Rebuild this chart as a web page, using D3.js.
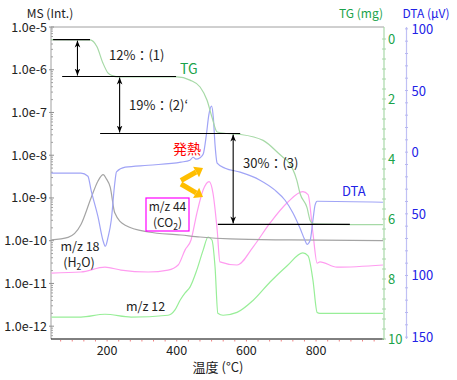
<!DOCTYPE html>
<html>
<head>
<meta charset="utf-8">
<script src="https://cdn.jsdelivr.net/npm/d3@7"></script>
<style>
body { margin: 0; background: #fff; }
text { font-family: "Noto Sans CJK JP", "Noto Sans", sans-serif; }
</style>
</head>
<body>
<div id="chart"></div>
<script>
// tick values / labels
var xTicks = [200, 400, 600, 800];
var msTicks = [1e-5, 1e-6, 1e-7, 1e-8, 1e-9, 1e-10, 1e-11, 1e-12];
var msTickLabels = ["1.0e-5", "1.0e-6", "1.0e-7", "1.0e-8", "1.0e-9", "1.0e-10", "1.0e-11", "1.0e-12"];
var tgTicks = [0, 2, 4, 6, 8, 10];
var dtaTicks = [100, 50, 0, -50, -100, -150];
var dtaTickLabels = ["100", "50", "0", "50", "100", "150"];

// TG (mg)
var tgTemp = [40, 151, 171, 188, 203, 215, 229, 401, 438, 467, 487, 501, 516, 544, 582, 648, 705, 717, 745, 754, 774, 783, 791, 992];
var tgMass = [0.02, 0.03, 0.26, 0.80, 1.14, 1.22, 1.26, 1.26, 1.37, 1.60, 2.04, 2.60, 3.10, 3.15, 3.18, 3.38, 3.94, 4.05, 4.72, 5.15, 5.62, 6.05, 6.16, 6.19];

// DTA (uV)
var dtaTemp = [40, 125, 145, 154, 174, 188, 195, 203, 212, 222, 227, 252, 318, 412, 438, 447, 455, 467, 476, 485, 492, 500, 505, 510, 516, 539, 582, 639, 682, 711, 734, 754, 768, 774, 783, 791, 797, 803, 992];
var dtaVal = [-17.0, -17.0, -19.5, -30.8, -52.5, -71.4, -76.3, -68.7, -55.2, -25.4, -16.0, -12.2, -10.6, -8.1, -6.5, -4.1, -5.7, -4.5, -1.5, 14, 30, 37.3, 28, 5.7, -8.9, -13.0, -16.2, -22.7, -30.8, -39.0, -49.5, -61.7, -71.4, -74.7, -71.4, -55.2, -43.0, -39.8, -40.6];

// m/z 18
var ms18Temp = [40, 88, 125, 154, 174, 189, 198, 209, 222, 252, 318, 412, 467, 553, 725, 992];
var ms18Val = [1.05e-10, 1.2e-10, 2.4e-10, 1.0e-9, 2.5e-9, 3.5e-9, 2.8e-9, 1.8e-9, 4.5e-10, 2.3e-10, 1.6e-10, 1.36e-10, 1.22e-10, 1.1e-10, 1.04e-10, 1.0e-10];

// m/z 44
var ms44Temp = [40, 125, 194, 240, 318, 375, 404, 424, 441, 458, 476, 493, 504, 516, 524, 573, 619, 668, 717, 762, 777, 791, 803, 811, 860, 992];
var ms44Val = [1.75e-11, 1.85e-11, 2.4e-11, 2.05e-11, 1.85e-11, 2.05e-11, 2.7e-11, 6.1e-11, 1.04e-10, 4.5e-10, 1.55e-9, 2.4e-9, 1.3e-9, 1.8e-10, 3.2e-11, 2.7e-11, 7.1e-11, 2.6e-10, 7.7e-10, 1.4e-9, 1.2e-9, 1.5e-10, 3.0e-11, 3.2e-11, 2.4e-11, 2.7e-11];

// m/z 12
var ms12Temp = [40, 125, 194, 269, 375, 395, 410, 424, 438, 458, 476, 490, 501, 510, 518, 533, 573, 619, 668, 717, 762, 777, 791, 803, 811, 992];
var ms12Val = [1.63e-12, 1.63e-12, 1.9e-12, 1.63e-12, 1.8e-12, 2.4e-12, 4.1e-12, 6.0e-12, 8.2e-12, 2.1e-11, 6.1e-11, 1.22e-10, 1.04e-10, 2.4e-11, 2.0e-12, 1.8e-12, 2.1e-12, 4.0e-12, 1.08e-11, 2.6e-11, 5.2e-11, 4.4e-11, 1.2e-11, 2.1e-12, 2.0e-12, 2.0e-12];

// TG step annotations: level (mg), horizontal extent (C)
var stepLevels = [0.02, 1.25, 3.15, 6.18];
var stepFrom = [45, 71, 180, 518];
var stepTo = [151, 398, 582, 897];
var arrowTemp = [115, 236, 562];
var stepLabels = ["12%\uff1a(1)", "19%\uff1a(2)\u2018", "30%\uff1a(3)"];

var W = 457, H = 380;
var pLeft = 51, pRight = 384, pTop = 27, pBottom = 339;

var svg = d3.select("#chart").append("svg")
    .attr("width", W).attr("height", H);

var x = d3.scaleLinear().domain([39, 995]).range([pLeft, pRight]);
var yMS = d3.scaleLog().domain([Math.pow(10, -12.3), 1e-5]).range([pBottom, pTop]);
var yTG = d3.scaleLinear().domain([-0.4, 10]).range([pTop, pBottom]);
var yDTA = d3.scaleLinear().domain([101.5, -151.5]).range([pTop, pBottom]);

var defs = svg.append("defs");
defs.append("marker").attr("id", "ah")
    .attr("viewBox", "0 0 10 10").attr("refX", 10).attr("refY", 5)
    .attr("markerWidth", 7).attr("markerHeight", 7).attr("orient", "auto-start-reverse")
    .attr("markerUnits", "userSpaceOnUse")
    .append("path").attr("d", "M0,1 L10,5 L0,9 L3,5 Z").attr("fill", "#000");

// frame
svg.append("line").attr("x1", pLeft).attr("x2", pRight).attr("y1", pTop).attr("y2", pTop)
    .attr("stroke", "#a0a0a0");

// left MS axis
var gL = svg.append("g");
gL.append("line").attr("x1", pLeft).attr("x2", pLeft).attr("y1", pTop).attr("y2", pBottom)
    .attr("stroke", "#a0a0a0");
var minorMS = [];
for (var e = -13; e <= -6; e++) {
    for (var m = 2; m <= 9; m++) {
        var v = m * Math.pow(10, e);
        if (v > yMS.domain()[0] && v < 1e-5) minorMS.push(v);
    }
}
gL.selectAll(".mn").data(minorMS).enter().append("line")
    .attr("x1", pLeft).attr("x2", pLeft + 2)
    .attr("y1", function(d) { return yMS(d); }).attr("y2", function(d) { return yMS(d); })
    .attr("stroke", "#a0a0a0");
gL.selectAll(".mj").data(msTicks).enter().append("line")
    .attr("x1", pLeft - 2).attr("x2", pLeft + 3)
    .attr("y1", function(d) { return yMS(d); }).attr("y2", function(d) { return yMS(d); })
    .attr("stroke", "#909090");
gL.selectAll(".lb").data(msTicks).enter().append("text")
    .attr("x", pLeft - 4).attr("y", function(d) { return yMS(d) + 4.5; })
    .attr("text-anchor", "end").attr("font-size", 12.5).attr("fill", "#222")
    .text(function(d, i) { return msTickLabels[i]; });
svg.append("text").attr("x", 50).attr("y", 18).attr("text-anchor", "middle")
    .attr("font-size", 12).attr("fill", "#222").text("MS (Int.)");

// bottom axis
svg.append("line").attr("x1", pLeft).attr("x2", pRight).attr("y1", pBottom).attr("y2", pBottom)
    .attr("stroke", "#000");
svg.selectAll(".xmn").data(d3.range(100 / 3 * 2, 995, 100 / 3)).enter().append("line")
    .attr("x1", function(d) { return x(d); }).attr("x2", function(d) { return x(d); })
    .attr("y1", pBottom + 1).attr("y2", pBottom + 2.5)
    .attr("stroke", "#f08080");
svg.selectAll(".xlb").data(xTicks).enter().append("text")
    .attr("x", function(d) { return x(d); }).attr("y", 355)
    .attr("text-anchor", "middle").attr("font-size", 12.5).attr("fill", "#222")
    .text(function(d) { return d; });
svg.append("text").attr("x", 218).attr("y", 371.5).attr("text-anchor", "middle")
    .attr("font-size", 13).attr("fill", "#222").text("温度 (°C)");

// TG axis
var tgCol = "#1aa34a";
svg.append("line").attr("x1", pRight).attr("x2", pRight).attr("y1", pTop).attr("y2", pBottom)
    .attr("stroke", "#a8d8a8").attr("stroke-width", 1.2);
svg.selectAll(".tgmn").data(d3.range(0, 10.01, 1 / 3)).enter().append("line")
    .attr("x1", pRight - 2).attr("x2", pRight + 2)
    .attr("y1", function(d) { return yTG(d); }).attr("y2", function(d) { return yTG(d); })
    .attr("stroke", "#a8d8a8");
svg.selectAll(".tglb").data(tgTicks).enter().append("text")
    .attr("x", pRight + 4).attr("y", function(d) { return yTG(d) + 5; })
    .attr("font-size", 13).attr("fill", tgCol)
    .text(function(d) { return d; });
svg.append("text").attr("x", 361).attr("y", 18).attr("text-anchor", "middle")
    .attr("font-size", 12).attr("fill", tgCol).text("TG (mg)");

// DTA axis
var dtaCol = "#2222e6";
var dtaAxisX = 406.5;
svg.append("line").attr("x1", dtaAxisX).attr("x2", dtaAxisX).attr("y1", pTop).attr("y2", pBottom)
    .attr("stroke", "#c0c0f4").attr("stroke-width", 1.2);
svg.selectAll(".dmn").data(d3.range(-150, 101, 10)).enter().append("line")
    .attr("x1", dtaAxisX - 1.5).attr("x2", dtaAxisX + 1.5)
    .attr("y1", function(d) { return yDTA(d); }).attr("y2", function(d) { return yDTA(d); })
    .attr("stroke", "#b8b8f0");
svg.selectAll(".dlb").data(dtaTicks).enter().append("text")
    .attr("x", dtaAxisX + 5).attr("y", function(d) { return yDTA(d) + 5; })
    .attr("font-size", 13).attr("fill", dtaCol)
    .text(function(d, i) { return dtaTickLabels[i]; });
svg.append("text").attr("x", 426).attr("y", 18).attr("text-anchor", "middle")
    .attr("font-size", 12).attr("fill", dtaCol).text("DTA (µV)");

// curves
function series(temps, vals) {
    return temps.map(function(t, i) { return [t, vals[i]]; });
}
function drawLine(data, yScale, color, width) {
    svg.append("path").datum(data)
        .attr("fill", "none").attr("stroke", color).attr("stroke-width", width)
        .attr("stroke-linejoin", "round")
        .attr("d", d3.line()
            .x(function(d) { return x(d[0]); })
            .y(function(d) { return yScale(d[1]); })
            .curve(d3.curveMonotoneX));
}
drawLine(series(ms12Temp, ms12Val), yMS, "#98ee98", 1.2);
drawLine(series(ms44Temp, ms44Val), yMS, "#ff9cf0", 1.2);
drawLine(series(ms18Temp, ms18Val), yMS, "#a4a4a4", 1.2);
drawLine(series(dtaTemp, dtaVal), yDTA, "#a0a4f6", 1.2);
drawLine(series(tgTemp, tgMass), yTG, "#a6d9a6", 1.2);

// step lines and arrows
stepLevels.forEach(function(lv, i) {
    svg.append("line")
        .attr("x1", x(stepFrom[i])).attr("x2", x(stepTo[i]))
        .attr("y1", yTG(lv)).attr("y2", yTG(lv))
        .attr("stroke", "#000").attr("stroke-width", 1.1);
});
arrowTemp.forEach(function(t, i) {
    svg.append("line")
        .attr("x1", x(t)).attr("x2", x(t))
        .attr("y1", yTG(stepLevels[i]) + 1).attr("y2", yTG(stepLevels[i + 1]) - 1)
        .attr("stroke", "#000").attr("stroke-width", 1.1)
        .attr("marker-start", "url(#ah)").attr("marker-end", "url(#ah)");
});
var labelPos = [[109, 59.5], [129, 109.5], [243, 167.5]];
stepLabels.forEach(function(s, i) {
    svg.append("text").attr("x", labelPos[i][0]).attr("y", labelPos[i][1])
        .attr("font-size", 13).attr("fill", "#222").text(s);
});

// series labels
svg.append("text").attr("x", 180).attr("y", 74).attr("font-size", 14)
    .attr("fill", tgCol).text("TG");
svg.append("text").attr("x", 342).attr("y", 195.5).attr("font-size", 13)
    .attr("fill", dtaCol).text("DTA");
svg.append("text").attr("x", 173).attr("y", 154).attr("font-size", 14)
    .attr("fill", "#ff0000").text("発熱");

svg.append("rect").attr("x", 146).attr("y", 198).attr("width", 43).attr("height", 33)
    .attr("fill", "#fff").attr("stroke", "#ff00ff").attr("stroke-width", 1.2);
svg.append("text").attr("x", 167.5).attr("y", 211).attr("text-anchor", "middle")
    .attr("font-size", 12).attr("fill", "#222").text("m/z 44");
var co2 = svg.append("text").attr("x", 167.5).attr("y", 227).attr("text-anchor", "middle")
    .attr("font-size", 12).attr("fill", "#222");
co2.append("tspan").text("(CO");
co2.append("tspan").attr("font-size", 8.5).attr("dy", 2.5).text("2");
co2.append("tspan").attr("dy", -2.5).text(")");

svg.append("text").attr("x", 80).attr("y", 251).attr("text-anchor", "middle")
    .attr("font-size", 12.5).attr("fill", "#222").text("m/z 18");
var h2o = svg.append("text").attr("x", 79).attr("y", 267).attr("text-anchor", "middle")
    .attr("font-size", 12.5).attr("fill", "#222");
h2o.append("tspan").text("(H");
h2o.append("tspan").attr("font-size", 8.5).attr("dy", 2.5).text("2");
h2o.append("tspan").attr("dy", -2.5).text("O)");

svg.append("text").attr("x", 126).attr("y", 310.5)
    .attr("font-size", 12.5).attr("fill", "#222").text("m/z 12");

// orange arrows pointing to the DTA peak and the m/z 44 peak
var orange = "#ffbe00";
function fatArrow(x0, y0, x1, y1) {
    var ang = Math.atan2(y1 - y0, x1 - x0);
    var hl = 8, hw = 6;
    var bx = x1 - hl * Math.cos(ang), by = y1 - hl * Math.sin(ang);
    svg.append("line").attr("x1", x0).attr("y1", y0).attr("x2", bx).attr("y2", by)
        .attr("stroke", orange).attr("stroke-width", 5).attr("stroke-linecap", "butt");
    var px = -Math.sin(ang), py = Math.cos(ang);
    svg.append("path")
        .attr("d", "M" + x1 + "," + y1 + "L" + (bx + px * hw) + "," + (by + py * hw) +
            "L" + (bx - px * hw) + "," + (by - py * hw) + "Z")
        .attr("fill", orange);
}
fatArrow(181, 180.5, 203, 168);
fatArrow(181, 184, 203, 197);
</script>
</body>
</html>
